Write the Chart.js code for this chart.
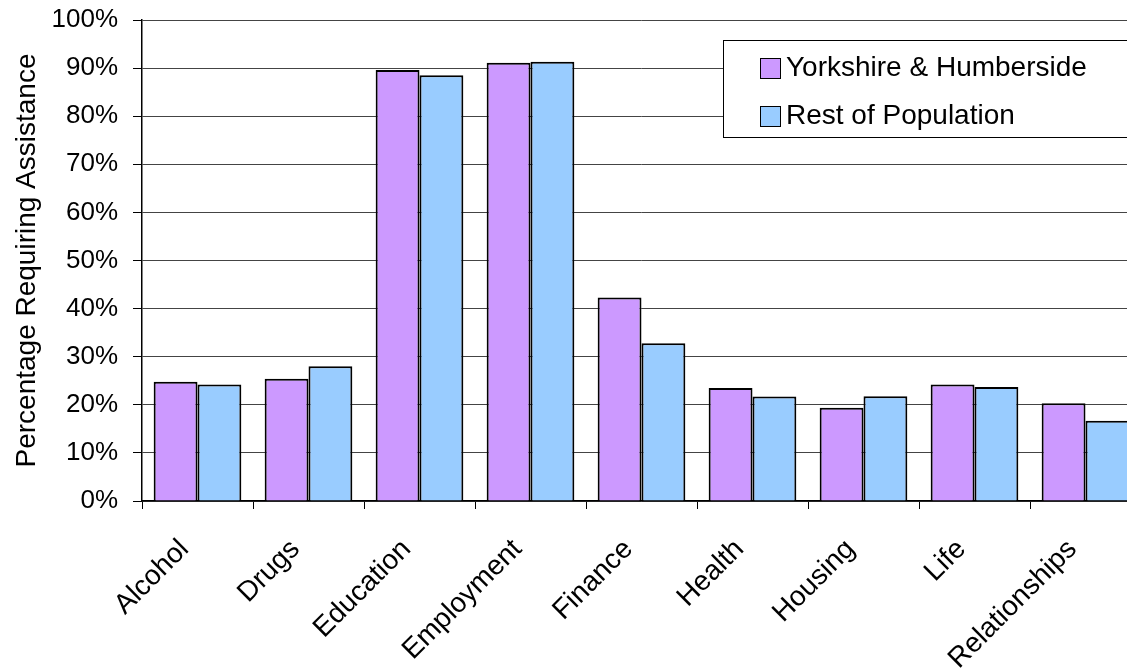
<!DOCTYPE html>
<html>
<head>
<meta charset="utf-8">
<script src="https://cdn.jsdelivr.net/npm/chart.js@4/dist/chart.umd.min.js"></script>
<style>
  html, body { margin: 0; padding: 0; background: #fff; overflow: hidden; width: 1127px; height: 668px; }
  canvas { display: block; }
</style>
</head>
<body>
<canvas id="c" width="1160" height="668"></canvas>
<script>
const categories = ["Alcohol", "Drugs", "Education", "Employment", "Finance", "Health", "Housing", "Life", "Relationships"];
const seriesNames = ["Yorkshire & Humberside", "Rest of Population"];
const yorkshire = [24.8, 25.4, 89.6, 91.1, 42.3, 23.5, 19.4, 24.2, 20.3];
const restOfPopulation = [24.2, 28.0, 88.5, 91.3, 32.8, 21.7, 21.8, 23.7, 16.7];
const yTicks = [0, 10, 20, 30, 40, 50, 60, 70, 80, 90, 100];

const FONT = "'Liberation Sans', Arial, sans-serif";
const colors = ["#CC99FF", "#99CCFF"];

const legendPlugin = {
  id: 'boxLegend',
  afterDraw(chart) {
    const ctx = chart.ctx;
    ctx.save();
    const x0 = 723, y0 = 40, w = 460, h = 97;
    ctx.fillStyle = '#fff';
    ctx.fillRect(x0, y0, w, h);
    ctx.strokeStyle = '#000';
    ctx.lineWidth = 1;
    ctx.strokeRect(x0 + 0.5, y0 + 0.5, w, h);
    ctx.font = "28px " + FONT;
    ctx.textBaseline = 'middle';
    ctx.textAlign = 'left';
    chart.data.datasets.forEach((ds, i) => {
      const cy = 68 + i * 48;
      ctx.fillStyle = ds.backgroundColor;
      ctx.fillRect(760, cy - 10, 20, 20);
      ctx.strokeStyle = '#000';
      ctx.lineWidth = 1;
      ctx.strokeRect(760.5, cy - 9.5, 20, 20);
      ctx.fillStyle = '#000';
      ctx.fillText(ds.label, 786, cy);
    });
    ctx.restore();
  }
};

new Chart(document.getElementById('c'), {
  type: 'bar',
  data: {
    labels: categories,
    datasets: [
      { label: seriesNames[0], data: yorkshire, backgroundColor: colors[0], borderColor: '#000', borderWidth: 2 },
      { label: seriesNames[1], data: restOfPopulation, backgroundColor: colors[1], borderColor: '#000', borderWidth: 2 }
    ]
  },
  options: {
    responsive: false,
    animation: false,
    devicePixelRatio: 1,
    layout: { padding: { top: 20, right: 19, left: 0, bottom: 0 } },
    plugins: { legend: { display: false }, tooltip: { enabled: false } },
    datasets: { bar: { categoryPercentage: 0.79, barPercentage: 1.0 } },
    scales: {
      x: {
        afterFit(scale) { scale.height = 167; },
        grid: { drawOnChartArea: false, drawTicks: true, tickLength: 8, color: '#000', lineWidth: 1, offset: true },
        border: { color: '#000', width: 1.5 },
        ticks: {
          autoSkip: false, maxRotation: 45, minRotation: 45, padding: 24, labelOffset: -13,
          color: '#000', font: { family: FONT, size: 28 }
        }
      },
      y: {
        min: 0, max: 100,
        afterFit(scale) { scale.width = 142; scale.paddingTop = 0; scale.paddingBottom = 0; },
        afterBuildTicks(scale) { scale.ticks = yTicks.map(v => ({ value: v })); },
        grid: { color: '#444', lineWidth: 1, drawTicks: true, tickLength: 9, tickColor: '#000' },
        border: { color: '#000', width: 1.5 },
        ticks: {
          padding: 15, color: '#000', font: { family: FONT, size: 26 },
          callback: v => v + '%'
        },
        title: {
          display: true, text: 'Percentage Requiring Assistance',
          color: '#000', font: { family: FONT, size: 28 }, padding: { top: 10, bottom: 0 }
        }
      }
    }
  },
  plugins: [legendPlugin]
});
</script>
</body>
</html>
